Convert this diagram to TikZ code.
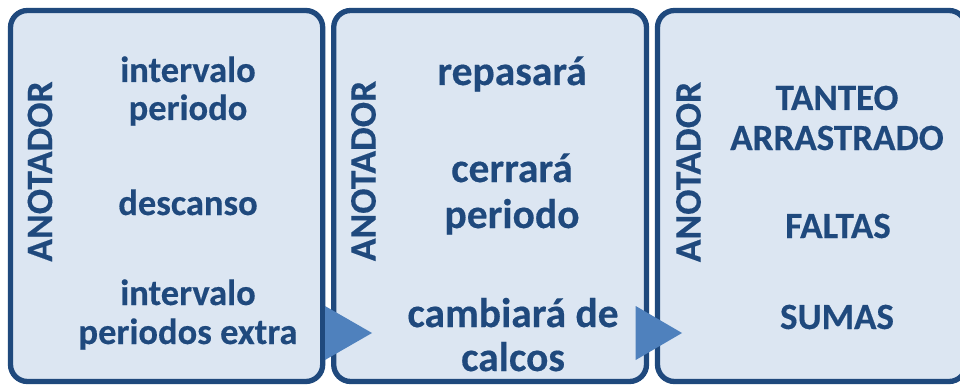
\documentclass[tikz,border=0pt]{standalone}
\usepackage{fontspec}
\setmainfont{Carlito}[BoldFeatures={FakeBold=0.35}]
\definecolor{panelfill}{HTML}{DCE6F2}
\definecolor{paneledge}{HTML}{1F497D}
\definecolor{txtblue}{HTML}{1F497D}
\definecolor{arrowblue}{HTML}{4F81BD}
\begin{document}
\begin{tikzpicture}[x=1pt,y=-1pt,
  panel/.style={draw=paneledge, fill=panelfill, line width=5.3pt, rounded corners=17pt,
    rectangle, inner sep=0pt, outer sep=0pt},
  lab/.style={text=txtblue, font=\bfseries\fontsize{37.5}{40}\selectfont, rotate=90, inner sep=0pt, anchor=center},
  tA/.style={text=txtblue, font=\bfseries\fontsize{36.5}{40}\selectfont, inner sep=0pt, anchor=base},
  tB/.style={text=txtblue, font=\bfseries\fontsize{41.5}{46}\selectfont, inner sep=0pt, anchor=base},
  tC/.style={text=txtblue, font=\bfseries\fontsize{37}{40}\selectfont, inner sep=0pt, anchor=base},
  tri/.style={fill=arrowblue, draw=none}]
\useasboundingbox (0,0) rectangle (960,385);
\fill[white] (0,0) rectangle (960,385);
% panels
\node[panel, minimum width=312.2pt, minimum height=371pt] (p1) at (166.6,196) {};
\node[panel, minimum width=312.8pt, minimum height=371pt] (p2) at (490.1,196) {};
\node[panel, minimum width=308.5pt, minimum height=371pt] (p3) at (811.75,196) {};
% vertical labels
\node[lab] (l1) at (40,171.5) {ANOTADOR};
\node[lab] (l2) at (363.5,171) {ANOTADOR};
\node[lab] (l3) at (688.5,172) {ANOTADOR};
% panel 1 texts
\node[tA] (a1) at (188,82) {intervalo};
\node[tA] (a2) at (188,120) {periodo};
\node[tA] (a3) at (188,215) {descanso};
\node[tA] (a4) at (188,305) {intervalo};
\node[tA] (a5) at (188,344) {periodos extra};
% panel 2 texts
\node[tB] (b1) at (512,85) {repasará};
\node[tB] (b2) at (512,182) {cerrará};
\node[tB] (b3) at (512,228) {periodo};
\node[tB] (b4) at (513,327) {cambiará de};
\node[tB] (b5) at (513,371) {calcos};
% panel 3 texts
\node[tC] (c1) at (837,110) {TANTEO};
\node[tC] (c2) at (837,150) {ARRASTRADO};
\node[tC] (c3) at (838,238) {FALTAS};
\node[tC] (c4) at (837,329) {SUMAS};
% arrows
\path[tri] (325,306) -- (372,333) -- (325,360) -- cycle;
\path[tri] (635.7,306) -- (682,333) -- (635.7,360) -- cycle;
\end{tikzpicture}
\end{document}
